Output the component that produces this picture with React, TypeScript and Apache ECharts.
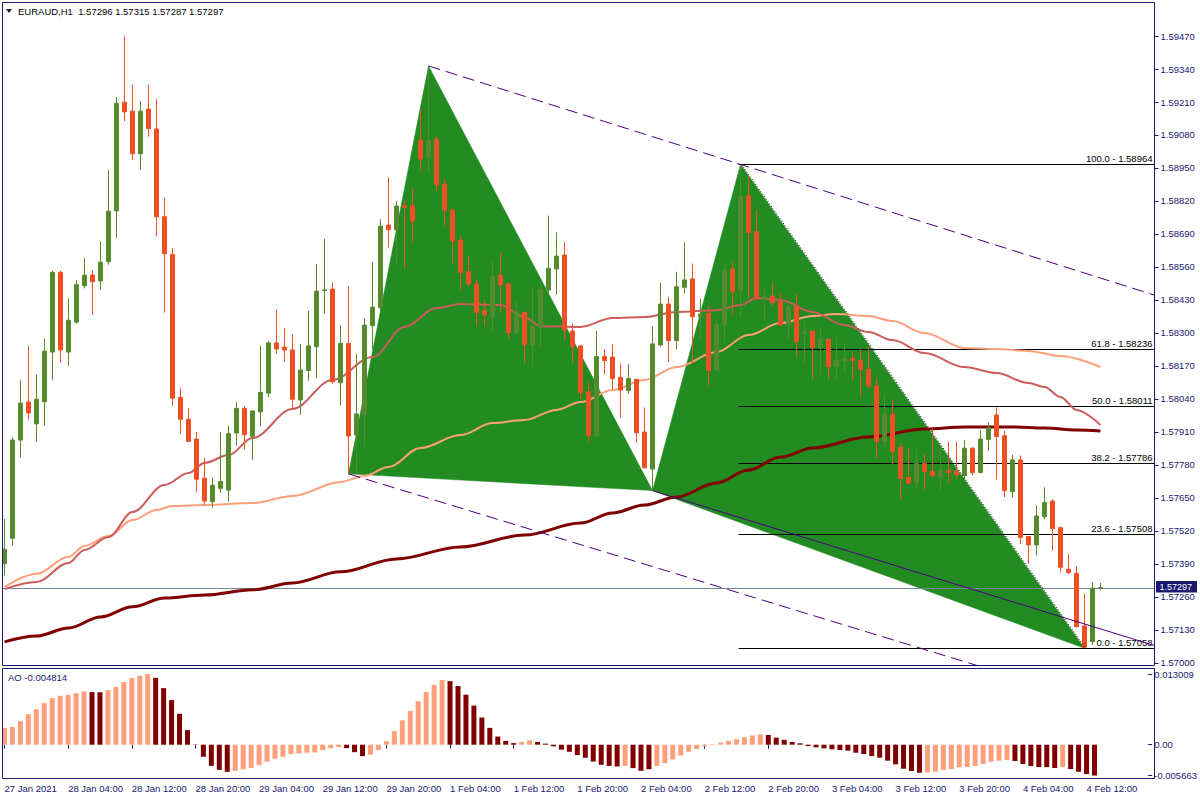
import React, { useEffect, useRef } from "react";
import * as echarts from "echarts";

const FONT = "'Liberation Sans',Arial,sans-serif";
const FS = 9.5;
const NAVY = "#191970";
const UP = "#568b2d";
const DOWN = "#f04e25";
const SALMON = "#ffa07a";
const DARK = "#800000";
const IND = "#cd5c5c";
const PATTERN_GREEN = "#228b22";
const CHANNEL = "#4b0082";

// [open, high, low, close] per H1 bar, 27 Jan 20:00 .. 4 Feb 13:00
const CANDLES: number[][] = [
  [1.57391, 1.57567, 1.57345, 1.57448], [1.57491, 1.57889, 1.57462, 1.57878], [1.57878, 1.58114, 1.5781, 1.58024],
  [1.58028, 1.5825, 1.57958, 1.57985], [1.57942, 1.58135, 1.5787, 1.58039], [1.58029, 1.58278, 1.57935, 1.58228],
  [1.58225, 1.58545, 1.58114, 1.58539], [1.58539, 1.58545, 1.58182, 1.58233], [1.58225, 1.58436, 1.58171, 1.5835],
  [1.58343, 1.58508, 1.58336, 1.5849], [1.58486, 1.58595, 1.58476, 1.58528], [1.58528, 1.58548, 1.58371, 1.58502],
  [1.58505, 1.58662, 1.58469, 1.58579], [1.58581, 1.58942, 1.58569, 1.5878], [1.58781, 1.59229, 1.58674, 1.59205],
  [1.59209, 1.59469, 1.59135, 1.59171], [1.59174, 1.59278, 1.58982, 1.59006], [1.59006, 1.59214, 1.58942, 1.59174],
  [1.59182, 1.59278, 1.59073, 1.59105], [1.59104, 1.59221, 1.58682, 1.58758], [1.58758, 1.58834, 1.5838, 1.58612],
  [1.58609, 1.58634, 1.58013, 1.58043], [1.58046, 1.58082, 1.57903, 1.5796], [1.5796, 1.58003, 1.5787, 1.57873],
  [1.57882, 1.5791, 1.57674, 1.57724], [1.57728, 1.57807, 1.57624, 1.57638], [1.57635, 1.57731, 1.57612, 1.577],
  [1.57688, 1.5791, 1.5767, 1.57715], [1.57681, 1.57935, 1.57635, 1.57903], [1.57906, 1.58029, 1.57856, 1.58003],
  [1.58003, 1.58013, 1.57841, 1.57899], [1.57893, 1.57995, 1.578, 1.57993], [1.57989, 1.5825, 1.57932, 1.58066],
  [1.58063, 1.58268, 1.58046, 1.58261], [1.58261, 1.58394, 1.58218, 1.58237], [1.58244, 1.58318, 1.58187, 1.58233],
  [1.58233, 1.58296, 1.57997, 1.58039], [1.58036, 1.58257, 1.57977, 1.58154], [1.58152, 1.58387, 1.58112, 1.58249],
  [1.58246, 1.58572, 1.58121, 1.58465], [1.58467, 1.5867, 1.58377, 1.5847], [1.58473, 1.58498, 1.581, 1.58108],
  [1.58104, 1.58331, 1.58016, 1.58259], [1.58259, 1.58485, 1.57745, 1.57894], [1.57898, 1.58217, 1.57747, 1.57981],
  [1.57977, 1.58358, 1.57852, 1.58331], [1.58329, 1.58581, 1.58236, 1.58402], [1.584, 1.58748, 1.58377, 1.58721],
  [1.58725, 1.58913, 1.58637, 1.58707], [1.58706, 1.5882, 1.58568, 1.588], [1.58801, 1.5882, 1.58551, 1.58795],
  [1.58801, 1.58872, 1.58656, 1.58741], [1.5906, 1.59181, 1.58939, 1.58985], [1.58992, 1.59352, 1.58931, 1.5906],
  [1.59064, 1.59076, 1.58857, 1.58883], [1.58887, 1.58903, 1.58719, 1.58784], [1.58784, 1.5879, 1.58574, 1.58662],
  [1.58666, 1.58682, 1.58467, 1.58538], [1.58542, 1.58603, 1.58482, 1.58493], [1.58493, 1.58511, 1.58325, 1.5838],
  [1.58388, 1.5843, 1.58325, 1.58371], [1.58364, 1.58587, 1.58301, 1.58524], [1.58528, 1.58616, 1.5838, 1.58489],
  [1.58493, 1.58498, 1.58275, 1.58301], [1.58301, 1.5843, 1.58292, 1.58384], [1.58381, 1.58384, 1.5818, 1.58253],
  [1.58253, 1.58482, 1.58167, 1.58327], [1.58325, 1.58502, 1.58246, 1.58472], [1.58469, 1.58762, 1.58456, 1.58555],
  [1.58552, 1.58696, 1.5845, 1.58603], [1.58607, 1.58657, 1.58272, 1.58312], [1.58308, 1.58338, 1.5818, 1.58246],
  [1.58249, 1.58252, 1.5804, 1.58065], [1.58069, 1.58108, 1.57868, 1.57895], [1.57894, 1.58308, 1.57889, 1.58207],
  [1.58207, 1.58237, 1.58138, 1.58191], [1.58205, 1.58257, 1.58078, 1.58121], [1.58125, 1.5818, 1.57966, 1.58075],
  [1.58073, 1.58178, 1.58062, 1.58121], [1.58117, 1.5812, 1.57868, 1.57907], [1.5791, 1.58007, 1.57765, 1.57769],
  [1.57764, 1.58327, 1.57679, 1.58257], [1.58253, 1.58498, 1.58246, 1.58414], [1.58414, 1.58443, 1.58184, 1.5827],
  [1.5827, 1.58541, 1.58236, 1.58482], [1.5848, 1.58657, 1.58456, 1.58509], [1.58513, 1.58574, 1.58178, 1.58364],
  [1.58364, 1.58436, 1.5827, 1.58375], [1.58377, 1.58406, 1.58092, 1.58152], [1.58154, 1.58354, 1.5815, 1.58335],
  [1.58334, 1.58574, 1.58262, 1.58548], [1.58552, 1.58583, 1.58373, 1.58463], [1.58467, 1.58964, 1.5836, 1.5884],
  [1.5884, 1.58916, 1.58436, 1.58695], [1.58699, 1.58784, 1.5843, 1.58434], [1.58432, 1.58476, 1.58351, 1.58443],
  [1.58446, 1.58499, 1.58406, 1.58419], [1.58423, 1.58456, 1.58328, 1.58331], [1.58331, 1.58414, 1.58276, 1.58404],
  [1.58406, 1.58453, 1.58203, 1.58266], [1.58299, 1.58348, 1.5818, 1.58305], [1.58308, 1.5831, 1.58117, 1.58242],
  [1.58242, 1.58325, 1.58132, 1.58279], [1.58275, 1.58278, 1.58117, 1.58167], [1.58167, 1.58283, 1.58112, 1.58194],
  [1.58191, 1.58263, 1.58141, 1.582], [1.582, 1.58229, 1.58112, 1.58191], [1.58191, 1.58235, 1.58047, 1.58157],
  [1.58157, 1.58246, 1.58085, 1.58091], [1.58092, 1.58121, 1.57806, 1.57872], [1.57872, 1.5806, 1.57855, 1.5798],
  [1.5798, 1.58036, 1.5778, 1.57832], [1.5785, 1.57865, 1.57645, 1.57727], [1.57731, 1.57846, 1.57705, 1.57708],
  [1.5771, 1.57842, 1.57684, 1.57786], [1.57786, 1.57823, 1.57684, 1.57754], [1.57756, 1.57924, 1.5773, 1.57738],
  [1.5773, 1.57846, 1.57681, 1.5776], [1.5776, 1.57872, 1.5771, 1.5775], [1.57756, 1.57872, 1.57723, 1.57741],
  [1.57738, 1.57878, 1.57717, 1.57846], [1.57846, 1.5785, 1.5774, 1.5775], [1.5775, 1.57918, 1.57747, 1.57882],
  [1.57881, 1.57947, 1.57835, 1.57927], [1.57977, 1.58007, 1.57723, 1.57892], [1.57895, 1.57914, 1.57653, 1.57679],
  [1.57675, 1.57819, 1.57653, 1.578], [1.578, 1.57817, 1.57469, 1.57495], [1.57498, 1.575, 1.5739, 1.57465],
  [1.57465, 1.57622, 1.57423, 1.57579], [1.57576, 1.57692, 1.57566, 1.57632], [1.57638, 1.57645, 1.57442, 1.5753],
  [1.57533, 1.57535, 1.57357, 1.57377], [1.57369, 1.57428, 1.5735, 1.57356], [1.57353, 1.57383, 1.5714, 1.57143],
  [1.57146, 1.57272, 1.57058, 1.57062], [1.57084, 1.5732, 1.57071, 1.57294], [1.57296, 1.57315, 1.57287, 1.57297],
];

// Moving averages read at sample bars: [bar, value]
const MA_FAST: number[][] = [
  [0, 1.57291], [4, 1.57319], [8, 1.57394], [10, 1.57445], [13, 1.57496], [16, 1.57595], [20, 1.57701], [23, 1.57748],
  [25, 1.57788], [28, 1.57819], [31, 1.57886], [36, 1.58001], [41, 1.58115], [46, 1.58205], [50, 1.58324], [54, 1.58398],
  [57, 1.58414], [62, 1.5841], [65, 1.58363], [67, 1.58327], [72, 1.58324], [76, 1.58359], [80, 1.58363], [84, 1.58383],
  [89, 1.5839], [92, 1.5841], [94, 1.58438], [97, 1.5843], [101, 1.58383], [105, 1.58331], [108, 1.58304], [111, 1.58272],
  [115, 1.58221], [120, 1.58166], [124, 1.58142], [128, 1.58103], [130, 1.58087], [132, 1.58048], [134, 1.57997], [137, 1.57937],
];
const MA_MID: number[][] = [
  [0, 1.57299], [4, 1.57351], [8, 1.57418], [10, 1.57461], [13, 1.575], [16, 1.57563], [19, 1.57603], [21, 1.57618],
  [25, 1.57622], [31, 1.5763], [36, 1.57658], [42, 1.57713], [45, 1.57737], [48, 1.57772], [52, 1.57847], [57, 1.57898],
  [61, 1.57945], [65, 1.57957], [69, 1.57997], [72, 1.58028], [76, 1.58075], [80, 1.58115], [84, 1.58166], [89, 1.58225],
  [93, 1.58292], [97, 1.58339], [101, 1.58367], [104, 1.58375], [108, 1.58367], [111, 1.58347], [115, 1.583], [120, 1.58241],
  [124, 1.58237], [128, 1.58229], [132, 1.58209], [137, 1.58166],
];
const MA_SLOW: number[][] = [
  [0, 1.57083], [4, 1.57106], [8, 1.57138], [12, 1.57181], [16, 1.57221], [20, 1.57256], [25, 1.57268], [31, 1.57288],
  [36, 1.57315], [42, 1.57359], [49, 1.5741], [57, 1.57457], [65, 1.57504], [72, 1.57551], [76, 1.57591], [80, 1.57622],
  [84, 1.57654], [89, 1.57709], [93, 1.5776], [97, 1.57811], [101, 1.57847], [108, 1.5789], [115, 1.57922], [120, 1.5793],
  [126, 1.5793], [130, 1.57926], [134, 1.57918], [137, 1.57914],
];

// Awesome Oscillator histogram, and colour per bar (u = rising / salmon, d = falling / dark red)
const AO: number[] = [
  0.00306, 0.00329, 0.00435, 0.00562, 0.00655, 0.00765, 0.00857, 0.00899, 0.00918, 0.00949,
  0.00981, 0.00968, 0.00965, 0.01005, 0.01065, 0.01152, 0.01226, 0.01268, 0.013009, 0.01231,
  0.01041, 0.0082, 0.00569, 0.00269, 0.00005, -0.00222, -0.00388, -0.00462, -0.00499, -0.0048,
  -0.00454, -0.00425, -0.00375, -0.00314, -0.00259, -0.00222, -0.00173, -0.0016, -0.00148, -0.00142,
  -0.001, -0.00063, -0.00044, -0.00063, -0.00137, -0.0021, -0.00185, -0.001, 0.00066, 0.0025,
  0.0045, 0.0062, 0.008, 0.0097, 0.011, 0.0119, 0.0117, 0.0108, 0.0092, 0.0072,
  0.005, 0.0031, 0.0015, 0.0007, 0.0003, 0.0005, 0.0008, 0.0005, 0.0002, -0.0003,
  -0.0009, -0.0013, -0.0019, -0.0024, -0.0031, -0.0037, -0.0039, -0.004, -0.0039, -0.0043,
  -0.0048, -0.0045, -0.0039, -0.0034, -0.0027, -0.002, -0.0013, -0.0008, -0.0003, 0.0001,
  0.0004, 0.0007, 0.001, 0.0014, 0.0017, 0.0019, 0.0018, 0.0013, 0.0009, 0.0005,
  0.00026, -0.00024, -0.00048, -0.00066, -0.00085, -0.00098, -0.0011, -0.00147, -0.00171, -0.00208,
  -0.00239, -0.00294, -0.00361, -0.00442, -0.00484, -0.00515, -0.0051, -0.00497, -0.00466, -0.00447,
  -0.00416, -0.0041, -0.00392, -0.00355, -0.00313, -0.00294, -0.00281, -0.003, -0.00355, -0.00392,
  -0.0041, -0.00412, -0.00429, -0.0041, -0.00447, -0.00497, -0.0054, -0.005663,
];
const AO_DIR =
  "uuuuuuuuuuu" + "dd" + "uuuuuu" + "dddddddddd" + "uuuuuuuuuuuuuu" + "ddd" + "uuuuuuuuuu" + "ddddddddd" + "uu" +
  "ddddddddddd" + "u" + "ddd" + "uuuuuuuuuuuuuu" + "dddddddddddddddddddd" + "uuuuuuuuuuu" + "dddddd" + "u" + "dddd";

const X_LABELS = [
  "27 Jan 2021", "28 Jan 04:00", "28 Jan 12:00", "28 Jan 20:00", "29 Jan 04:00", "29 Jan 12:00", "29 Jan 20:00",
  "1 Feb 04:00", "1 Feb 12:00", "1 Feb 20:00", "2 Feb 04:00", "2 Feb 12:00", "2 Feb 20:00", "3 Feb 04:00",
  "3 Feb 12:00", "3 Feb 20:00", "4 Feb 04:00", "4 Feb 12:00",
];
const BARS_PER_LABEL = 8;
const SLOTS = 144;

const PRICE_TICKS = [
  1.5947, 1.5934, 1.5921, 1.5908, 1.5895, 1.5882, 1.5869, 1.5856, 1.5843, 1.583,
  1.5817, 1.5804, 1.5791, 1.5778, 1.5765, 1.5752, 1.5739, 1.5726, 1.5713, 1.57,
];
const PRICE_MIN = 1.5699;
const PRICE_MAX = 1.59602;
const AO_MIN = -0.005663;
const AO_MAX = 0.013009;
const AO_TICKS = [0.013009, 0, -0.005663];
const LAST_PRICE = 1.57297;
const AO_LAST = -0.004814;
const HEADER = "EURAUD,H1  1.57296 1.57315 1.57287 1.57297";

// Harmonic pattern pivots X, A, B, C, D
const PIVOT_BARS = [43, 53, 81, 92, 135];
const PIVOT_PRICES = [1.57745, 1.59352, 1.57679, 1.58964, 1.57058];
const TRIANGLES = [[0, 1, 2], [2, 3, 4]];

// Fibonacci retracement C -> D
const FIB_START_BAR = 92;
const FIB_PCT = [100, 61.8, 50, 38.2, 23.6, 0];
const FIB_LEVELS = [1.58964, 1.58236, 1.58011, 1.57786, 1.57508, 1.57058];

// Trend lines: two anchors, whether extended, style
const TL_A_BAR = [53, 43, 81, 92];
const TL_A_PRICE = [1.59352, 1.57745, 1.57679, 1.58964];
const TL_B_BAR = [92, 107, 140, 135];
const TL_B_PRICE = [1.58964, 1.5713, 1.57105, 1.57058];
const TL_EXTEND = [true, true, true, false];
const TL_STYLE = ["dash", "dash", "solid", "dot"];

const AXIS_SHIFT = 2;

function buildOption(): any {
  const cats = Array.from({ length: SLOTS }, (_, i) => String(i));
  const textBase = { fontFamily: FONT, fontSize: FS };
  const font = FS + "px " + FONT;
  const maLine = (data: number[][], color: string, width: number) => ({
    type: "line", xAxisIndex: 0, yAxisIndex: 0, z: 3, data, showSymbol: false, silent: true,
    smooth: 0.35, smoothMonotone: "x", lineStyle: { color, width },
  });
  return {
    animation: false,
    backgroundColor: "#ffffff",
    textStyle: { fontFamily: FONT },
    grid: [
      { left: 0.5, top: 2.5, width: 1152, height: 663 },
      { left: 0.5, top: 674, width: 1152, height: 101.5 },
    ],
    xAxis: [
      {
        type: "category", gridIndex: 0, data: cats, boundaryGap: true,
        axisLine: { show: false }, axisTick: { show: false }, axisLabel: { show: false }, splitLine: { show: false },
      },
      {
        type: "category", gridIndex: 1, data: cats, boundaryGap: true, position: "bottom", offset: 2.5,
        axisLine: { show: false },
        axisTick: { show: true, interval: BARS_PER_LABEL - 1, alignWithLabel: true, length: 4, lineStyle: { color: NAVY } },
        axisLabel: {
          show: true, interval: BARS_PER_LABEL - 1, align: "left", margin: 5, color: NAVY, ...textBase,
          formatter: (_v: string, idx: number) => (idx % BARS_PER_LABEL === 0 ? X_LABELS[idx / BARS_PER_LABEL] ?? "" : ""),
        },
        splitLine: { show: false },
      },
    ],
    yAxis: [
      {
        type: "value", gridIndex: 0, position: "right", offset: AXIS_SHIFT, min: PRICE_MIN, max: PRICE_MAX, scale: true,
        axisLine: { show: false },
        axisTick: { show: true, length: 4, customValues: PRICE_TICKS, lineStyle: { color: NAVY } },
        axisLabel: { show: true, customValues: PRICE_TICKS, margin: 6, color: NAVY, ...textBase, formatter: (v: number) => v.toFixed(5) },
        splitLine: { show: false },
      },
      {
        type: "value", gridIndex: 1, position: "right", offset: AXIS_SHIFT, min: AO_MIN, max: AO_MAX,
        axisLine: { show: false },
        axisTick: { show: true, length: 4, customValues: AO_TICKS, lineStyle: { color: NAVY } },
        axisLabel: {
          show: true, customValues: AO_TICKS, margin: 6, color: NAVY, ...textBase,
          formatter: (v: number) => (v === 0 ? "0.00" : v.toFixed(6)),
        },
        splitLine: { show: false },
      },
    ],
    graphic: [
      { type: "rect", shape: { x: 2.5, y: 2.5, width: 1152, height: 663 }, style: { fill: "none", stroke: NAVY, lineWidth: 1 }, z: 100, silent: true },
      { type: "rect", shape: { x: 2.5, y: 668.5, width: 1152, height: 110 }, style: { fill: "none", stroke: NAVY, lineWidth: 1 }, z: 100, silent: true },
      { type: "polygon", shape: { points: [[6, 9], [12, 9], [9, 13]] }, style: { fill: "#1a1a3a" }, z: 100, silent: true },
      {
        type: "text", x: 18, y: 11, z: 100, silent: true,
        style: { text: HEADER, fill: "#000", font, verticalAlign: "middle" },
      },
      {
        type: "text", x: 8, y: 677, z: 100, silent: true,
        style: { text: "AO " + AO_LAST.toFixed(6), fill: NAVY, font, verticalAlign: "middle" },
      },
    ],
    series: [
      {
        type: "custom", name: "pattern", xAxisIndex: 0, yAxisIndex: 0, z: 1, silent: true,
        data: TRIANGLES.map((t) => [PIVOT_BARS[t[0]], PIVOT_PRICES[t[0]]]),
        renderItem: (params: any, api: any) => {
          const t = TRIANGLES[params.dataIndex];
          const pts = t.map((k) => api.coord([PIVOT_BARS[k], PIVOT_PRICES[k]]));
          return { type: "polygon", shape: { points: pts }, style: { fill: PATTERN_GREEN, stroke: PATTERN_GREEN, lineWidth: 0.5 } };
        },
      },
      {
        type: "custom", name: "fibo", xAxisIndex: 0, yAxisIndex: 0, z: 2, silent: true,
        data: FIB_LEVELS.map((l) => [FIB_START_BAR, l]),
        renderItem: (params: any, api: any) => {
          const i = params.dataIndex;
          const cs = params.coordSys;
          const p = api.coord([FIB_START_BAR, FIB_LEVELS[i]]);
          const xEnd = cs.x + cs.width + AXIS_SHIFT;
          const y = Math.round(p[1]) + 0.5;
          return {
            type: "group",
            children: [
              { type: "line", shape: { x1: p[0] - 2, y1: y, x2: xEnd, y2: y }, style: { stroke: "#000", lineWidth: 1 } },
              {
                type: "text",
                style: {
                  text: FIB_PCT[i].toFixed(1) + " - " + FIB_LEVELS[i].toFixed(5), x: xEnd - 2, y: y - 1,
                  align: "right", verticalAlign: "bottom", fill: "#000", font,
                },
              },
            ],
          };
        },
      },
      {
        type: "custom", name: "last-price", xAxisIndex: 0, yAxisIndex: 0, z: 2, silent: true,
        data: [[0, LAST_PRICE]],
        renderItem: (params: any, api: any) => {
          const cs = params.coordSys;
          const p = api.coord([0, LAST_PRICE]);
          const y = Math.round(p[1]) + 0.5;
          const xEnd = cs.x + cs.width + AXIS_SHIFT;
          return {
            type: "group",
            children: [
              { type: "line", shape: { x1: cs.x + 2, y1: y, x2: xEnd, y2: y }, style: { stroke: "#778899", lineWidth: 1 } },
              { type: "rect", shape: { x: xEnd + 1.5, y: y - 7.5, width: 41, height: 11.5 }, style: { fill: NAVY } },
              {
                type: "text",
                style: { text: LAST_PRICE.toFixed(5), x: xEnd + 5, y: y - 1.5, verticalAlign: "middle", fill: "#fff", font: "9px " + FONT },
              },
            ],
          };
        },
      },
      maLine(MA_SLOW, DARK, 3),
      maLine(MA_MID, SALMON, 2),
      maLine(MA_FAST, IND, 2),
      {
        type: "candlestick", name: "EURAUD", xAxisIndex: 0, yAxisIndex: 0, z: 4, silent: true,
        barWidth: 4,
        data: CANDLES.map((c) => [c[0], c[3], c[2], c[1]]),
        itemStyle: { color: UP, color0: DOWN, borderColor: UP, borderColor0: DOWN, borderWidth: 1 },
      },
      {
        type: "custom", name: "trendlines", xAxisIndex: 0, yAxisIndex: 0, z: 5, silent: true,
        data: TL_A_BAR.map((b, i) => [b, TL_A_PRICE[i]]),
        renderItem: (params: any, api: any) => {
          const i = params.dataIndex;
          const cs = params.coordSys;
          const a = api.coord([TL_A_BAR[i], TL_A_PRICE[i]]);
          let b = api.coord([TL_B_BAR[i], TL_B_PRICE[i]]);
          if (TL_EXTEND[i]) {
            const dx = b[0] - a[0];
            const dy = b[1] - a[1];
            const xEnd = cs.x + cs.width + AXIS_SHIFT;
            const yEnd = cs.y + cs.height;
            let t = (xEnd - a[0]) / dx;
            if (dy > 0) t = Math.min(t, (yEnd - a[1]) / dy);
            b = [a[0] + dx * t, a[1] + dy * t];
          }
          const st = TL_STYLE[i];
          const style: any = { stroke: st === "dot" ? "#000" : CHANNEL, lineWidth: 1 };
          if (st === "dash") style.lineDash = [12, 6];
          if (st === "dot") style.lineDash = [1, 2];
          const off = st === "dot" ? 1 : 0;
          return { type: "line", shape: { x1: a[0] + off, y1: a[1], x2: b[0] + off, y2: b[1] }, style };
        },
      },
      {
        type: "bar", name: "AO", xAxisIndex: 1, yAxisIndex: 1, barWidth: 5, silent: true,
        data: AO.map((v, i) => ({ value: v, itemStyle: { color: AO_DIR[i] === "u" ? SALMON : DARK } })),
      },
    ],
  };
}

export default function App() {
  const ref = useRef<HTMLDivElement>(null);
  useEffect(() => {
    if (!ref.current) return;
    const chart = echarts.init(ref.current, undefined, { renderer: "svg" });
    chart.setOption(buildOption());
    return () => chart.dispose();
  }, []);
  return (
    <div
      ref={ref}
      style={{ position: "fixed", left: 0, top: 0, width: 1200, height: 800, background: "#ffffff" }}
    />
  );
}
